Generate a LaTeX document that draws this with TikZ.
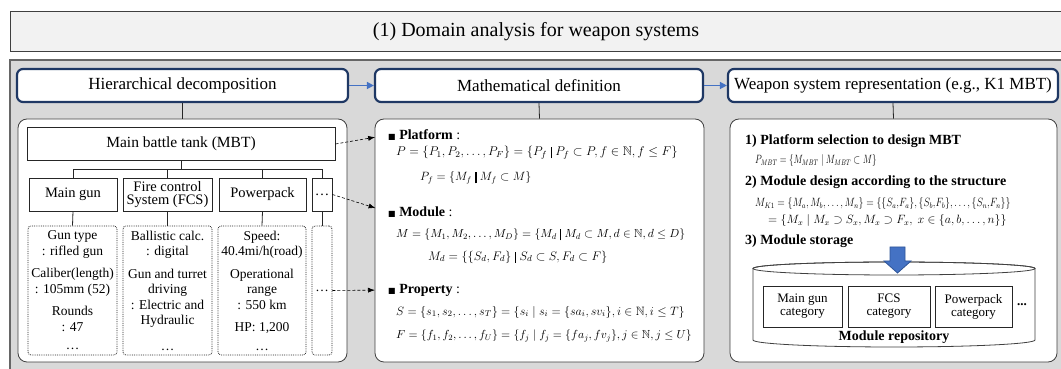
\RequirePackage{fix-cm}
\documentclass[tikz,border=0pt]{standalone}
\usepackage{amsmath,amssymb,graphicx}
\usepackage{fontspec}
\setmainfont{Liberation Serif}
\newfontfamily\dejavu{DejaVu Sans}
\usepackage{tikz}
\usetikzlibrary{arrows.meta,positioning,calc}
\definecolor{wsnavy}{HTML}{1F3864}
\definecolor{wsblue}{HTML}{4472C4}
\definecolor{wsblueedge}{HTML}{2F5597}
\definecolor{wsedge}{HTML}{404040}
\definecolor{wspanel}{HTML}{D9D9D9}
\definecolor{wstitle}{HTML}{F2F2F2}
\newcommand{\tbar}{\mathrel{\rule[-2.5pt]{1.4pt}{11pt}}}
\newcommand{\sqbullet}{{\dejavu\fontsize{8}{8}\selectfont ■}}
\newcommand{\fs}[1]{\fontsize{#1}{15}\selectfont}

\begin{document}
\begin{tikzpicture}[x=1pt, y=1pt,
    header/.style={draw=wsnavy, line width=2.2pt, rounded corners=6pt, fill=white, minimum height=33pt, font=\fontsize{17}{20}\selectfont},
    pane/.style={draw=wsedge, line width=0.8pt, rounded corners=9pt, fill=white, minimum height=243pt},
    part/.style={draw=black!85, line width=0.8pt, fill=white, minimum height=33pt, inner sep=1pt, align=center, font=\fontsize{14.5}{12.5}\selectfont},
    spec/.style={draw=black!85, densely dotted, line width=0.8pt, rounded corners=3pt, minimum height=129pt, inner sep=1pt, align=center, font=\fontsize{13.5}{15.5}\selectfont},
    heading/.style={anchor=west, inner sep=0pt, font=\fontsize{14}{16}\selectfont},
    eqn/.style={anchor=west, inner sep=0pt},
    category/.style={draw=black!85, line width=0.8pt, fill=white, align=center, minimum height=41pt, font=\fontsize{13}{13}\selectfont},
    tree/.style={draw=black!85, line width=0.8pt},
    link/.style={densely dashed, line width=0.6pt, -{Latex[length=7pt,width=5pt]}, shorten >=13pt},
    flow/.style={wsblue, line width=1.5pt, -{Triangle[length=7pt,width=7pt]}}
]
    \clip (0,0) rectangle (1061,369);

    % Title bar and grey panel
    \node[draw=wsedge, line width=1pt, fill=wstitle, minimum width=1052pt, minimum height=40pt,
          font=\fontsize{20}{24}\selectfont] (title) at (536,337) {(1) Domain analysis for weapon systems};
    \node[draw=black!60, line width=1.5pt, fill=wspanel, minimum width=1052pt, minimum height=313pt,
          inner sep=0pt] (panel) at (536,152.5) {};

    % Stage headers
    \node[header, minimum width=331pt] (hdr1) at (182.5,283.5) {Hierarchical decomposition};
    \node[header, minimum width=328pt] (hdr2) at (539,283.5) {Mathematical definition};
    \node[header, minimum width=330pt] (hdr3) at (893,283.5) {Weapon system representation (e.g., K1 MBT)};
    \draw[flow] (hdr1) -- (hdr2);
    \draw[flow] (hdr2) -- (hdr3);

    % Content panes
    \node[pane, minimum width=329pt] (pane1) at (182.5,128.5) {};
    \node[pane, minimum width=329pt] (pane2) at (539.5,128.5) {};
    \node[pane, minimum width=327pt] (pane3) at (893.5,128.5) {};
    \draw[tree] (hdr1.south) -- (pane1.north);
    \draw[tree] (hdr2.south) -- (pane2.north);
    \draw[tree] (hdr3.south) -- (pane3.north);

    % Pane 1: hierarchical decomposition of the tank
    \node[part, minimum width=308pt, font=\fontsize{15.5}{18}\selectfont] (mbt) at (181,225) {Main battle tank (MBT)};
    \node[part, minimum width=88pt] (gun) at (73,174.5) {Main gun};
    \node[part, minimum width=89pt] (fcs) at (167.5,174.5) {Fire control\\System (FCS)};
    \node[part, minimum width=87pt] (pwr) at (262.5,174.5) {Powerpack};
    \node[part, minimum width=20pt] (more) at (322,174.5) {\dots};
    \draw[tree] (mbt.south) -- ++(0,-9) -| (gun.north);
    \draw[tree] (mbt.south) -- ++(0,-9) -| (fcs.north);
    \draw[tree] (mbt.south) -- ++(0,-9) -| (pwr.north);
    \draw[tree] (mbt.south) -- ++(0,-9) -| (more.north);

    \node[spec, minimum width=89pt] (gunspec) at (72.5,78.5)
        {Gun type\\: rifled gun\\[7pt]Caliber(length)\\: 105mm (52)\\[7pt]Rounds\\: 47\\[3pt]\dots};
    \node[spec, minimum width=89pt] (fcsspec) at (167.5,78.5)
        {Ballistic calc.\\: digital\\[7pt]Gun and turret\\driving\\: Electric and\\Hydraulic\\[10pt]\dots};
    \node[spec, minimum width=88pt] (pwrspec) at (262,78.5)
        {Speed:\\40.4mi/h(road)\\[7pt]Operational\\range\\: 550 km\\[7pt]HP: 1,200\\[3pt]\dots};
    \node[spec, minimum width=20pt] (morespec) at (322,78.5) {\dots};
    \draw[tree] (gun.south) -- (gunspec.north);
    \draw[tree] (fcs.south) -- (fcsspec.north);
    \draw[tree] (pwr.south) -- (pwrspec.north);
    \draw[tree] (more.south) -- (morespec.north);

    % Pane 2: mathematical definition
    \node[heading] (plat) at (388,234) {\sqbullet\ \textbf{Platform} :};
    \node[eqn, font=\fs{12.6}] (eqP) at (396,216) {$P=\{P_1,P_2,\dots,P_F\}=\{P_f\tbar P_f\subset P, f\in\mathbb{N}, f\le F\}$};
    \node[eqn, font=\fs{12}] (eqPf) at (420,191) {$P_f=\{M_f\tbar M_f\subset M\}$};
    \node[heading] (modu) at (388,157) {\sqbullet\ \textbf{Module} :};
    \node[eqn, font=\fs{11.7}] (eqM) at (396,134) {$M=\{M_1,M_2,\dots,M_D\}=\{M_d\tbar M_d\subset M, d\in\mathbb{N}, d\le D\}$};
    \node[eqn, font=\fs{12.4}] (eqMd) at (428,112) {$M_d=\{\{S_d,F_d\}\tbar S_d\subset S, F_d\subset F\}$};
    \node[heading] (prop) at (388,79) {\sqbullet\ \textbf{Property} :};
    \node[eqn, font=\fs{12.1}] (eqS) at (396,57) {$S=\{s_1,s_2,\dots,s_T\}=\{s_i\mid s_i=\{sa_i,sv_i\}, i\in\mathbb{N}, i\le T\}$};
    \node[eqn, font=\fs{11.7}] (eqF) at (396,33) {$F=\{f_1,f_2,\dots,f_U\}=\{f_j\mid f_j=\{fa_j,fv_j\}, j\in\mathbb{N}, j\le U\}$};

    \draw[link] (mbt.east) -- (plat.west);
    \draw[link] (more.east) -- (modu.west);
    \draw[link] (morespec.east) -- (prop.west);

    % Pane 3: K1 MBT representation
    \node[heading] (step1) at (745,228) {\textbf{1) Platform selection to design MBT}};
    \node[eqn, font=\fs{12}] (eqMBT) at (755,208) {\scalebox{0.74}[1]{$P_{MBT}=\{M_{MBT}\mid M_{MBT}\subset M\}$}};
    \node[heading] (step2) at (745,187) {\textbf{2) Module design according to the structure}};
    \node[eqn, font=\fs{12}] (eqK1) at (755,165)
        {\scalebox{0.82}[1]{$M_{K1}=\{M_a,M_b,\dots,M_n\}=\{\{S_a{,}F_a\},\{S_b{,}F_b\},\dots,\{S_n{,}F_n\}\}$}};
    \node[eqn, font=\fs{12}] (eqK1b) at (768,148)
        {$=\{M_x\mid M_x\supset S_x, M_x\supset F_x,\ x\in\{a,b,\dots,n\}\}$};
    \node[heading] (step3) at (745,128) {\textbf{3) Module storage}};

    % repository cylinder
    \draw[wsedge, line width=0.8pt, fill=white] (753,100.5) -- (753,29)
        arc[start angle=180, end angle=360, x radius=141, y radius=7] -- (1035,100.5)
        arc[start angle=0, end angle=180, x radius=141, y radius=6.5] -- cycle;
    \draw[wsedge, line width=0.8pt] (894,100.5) ellipse[x radius=141, y radius=6.5];
    \filldraw[fill=wsblue, draw=wsblueedge, line width=0.8pt]
        (890,122) -- (905,122) -- (905,108) -- (911,108) -- (897.5,96) -- (884,108) -- (890,108) -- cycle;

    \node[category, minimum width=79pt] (cat1) at (802.5,62.5) {Main gun\\category};
    \node[category, minimum width=82pt] (cat2) at (889,62.5) {FCS\\category};
    \node[category, minimum width=77pt] (cat3) at (973.5,62.5) {Powerpack\\category};
    \node[font=\fontsize{13}{13}\selectfont\bfseries] (catmore) at (1022,64) {...};
    \node[font=\fontsize{14}{16}\selectfont\bfseries] (repo) at (894,32) {Module repository};
\end{tikzpicture}
\end{document}
